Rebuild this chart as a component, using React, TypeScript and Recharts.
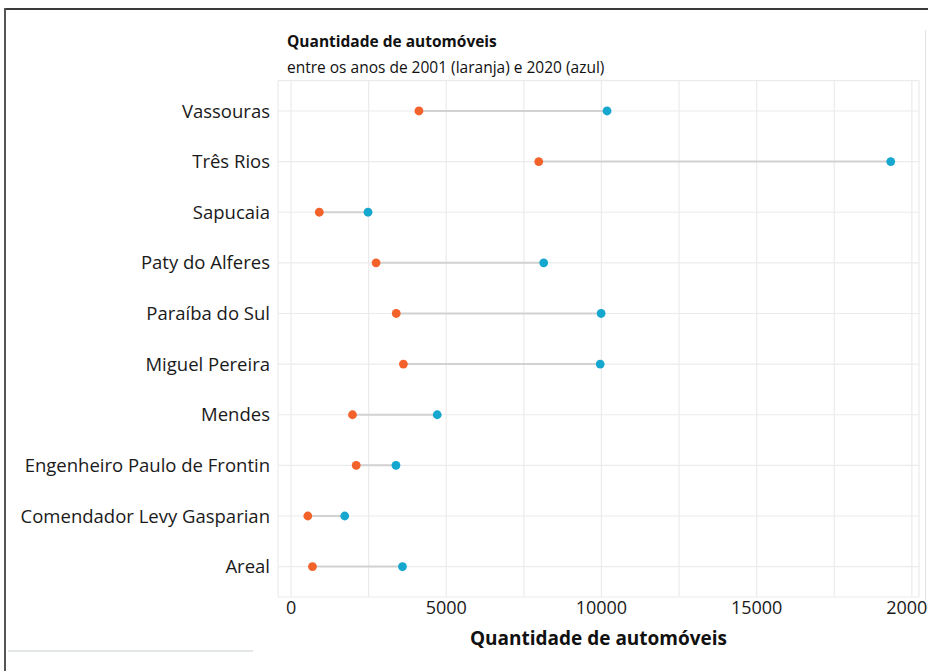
import { ScatterChart, Scatter, XAxis, YAxis, CartesianGrid, Label } from 'recharts'

// municípios de cima para baixo
const municipios = [
  'Vassouras',
  'Três Rios',
  'Sapucaia',
  'Paty do Alferes',
  'Paraíba do Sul',
  'Miguel Pereira',
  'Mendes',
  'Engenheiro Paulo de Frontin',
  'Comendador Levy Gasparian',
  'Areal',
]
const autos2001 = [4120, 7980, 910, 2740, 3390, 3620, 1980, 2100, 540, 690]
const autos2020 = [10180, 19320, 2480, 8140, 9990, 9960, 4710, 3380, 1730, 3590]
const xTicks = [0, 2500, 5000, 7500, 10000, 12500, 15000, 17500, 20000]
const yTicks = [1, 2, 3, 4, 5, 6, 7, 8, 9, 10]

const LARANJA = '#f4622c'
const AZUL = '#16a7cf'
const FONT = '"Open Sans", "Noto Sans", sans-serif'

const pontos2001 = municipios.map((nome, i) => ({ nome, x: autos2001[i], y: i + 1 }))
const pontos2020 = municipios.map((nome, i) => ({ nome, x: autos2020[i], y: i + 1 }))

const dot = (fill: string) => (props: any) => (
  <circle cx={props.cx} cy={props.cy} r={4.4} fill={fill} />
)

export default function App() {
  return (
    <div
      style={{
        position: 'absolute',
        left: 0,
        top: 0,
        width: 928,
        height: 671,
        overflow: 'hidden',
        background: '#fff',
        fontFamily: FONT,
      }}
    >
      {/* moldura do recorte */}
      <div style={{ position: 'absolute', left: 5, top: 8, width: 923, height: 1.5, background: '#3a3a3a' }} />
      <div style={{ position: 'absolute', left: 4, top: 8, width: 1.5, height: 663, background: '#555' }} />
      <div style={{ position: 'absolute', left: 925, top: 30, width: 1, height: 570, background: '#e2e2e2' }} />
      <div style={{ position: 'absolute', left: 8, top: 650, width: 245, height: 2, background: '#e3e8e6' }} />

      <div
        style={{
          position: 'absolute',
          left: 287,
          top: 32,
          fontSize: 15.5,
          fontWeight: 700,
          lineHeight: '18px',
          color: '#111',
        }}
      >
        Quantidade de automóveis
      </div>
      <div
        style={{
          position: 'absolute',
          left: 287,
          top: 58,
          fontSize: 15.5,
          lineHeight: '18px',
          color: '#111',
        }}
      >
        entre os anos de 2001 (laranja) e 2020 (azul)
      </div>

      <ScatterChart
        width={928}
        height={671}
        margin={{ top: 80.6, right: 9, bottom: 0, left: 0 }}
        style={{ position: 'absolute', left: 0, top: 0 }}
      >
        <CartesianGrid stroke="#ebebeb" strokeWidth={1.2} />
        <XAxis
          type="number"
          dataKey="x"
          domain={[-420, 20230]}
          ticks={xTicks}
          interval={0}
          allowDataOverflow
          tickFormatter={(v) => (v % 5000 === 0 ? String(v) : '')}
          tickLine={false}
          axisLine={false}
          tickSize={0}
          tickMargin={4}
          height={74}
          tick={{ fontSize: 18, fill: '#1a1a1a', fontFamily: FONT }}
        >
          <Label
            value="Quantidade de automóveis"
            position="insideBottom"
            offset={26}
            style={{ fontSize: 19, fontWeight: 700, fill: '#111', fontFamily: FONT }}
          />
        </XAxis>
        <YAxis
          type="number"
          dataKey="y"
          domain={[0.4, 10.6]}
          ticks={yTicks}
          interval={0}
          reversed
          tickFormatter={(v) => municipios[v - 1]}
          tickLine={false}
          axisLine={false}
          tickSize={0}
          tickMargin={8}
          width={278}
          tick={{ fontSize: 18.5, fill: '#1a1a1a', fontFamily: FONT }}
        />
        {municipios.map((nome, i) => (
          <Scatter
            key={nome}
            data={[pontos2001[i], pontos2020[i]]}
            line={{ stroke: '#d2d2d2', strokeWidth: 2 }}
            shape={() => <g />}
            isAnimationActive={false}
          />
        ))}
        <Scatter data={pontos2001} shape={dot(LARANJA)} isAnimationActive={false} />
        <Scatter data={pontos2020} shape={dot(AZUL)} isAnimationActive={false} />
      </ScatterChart>
    </div>
  )
}
